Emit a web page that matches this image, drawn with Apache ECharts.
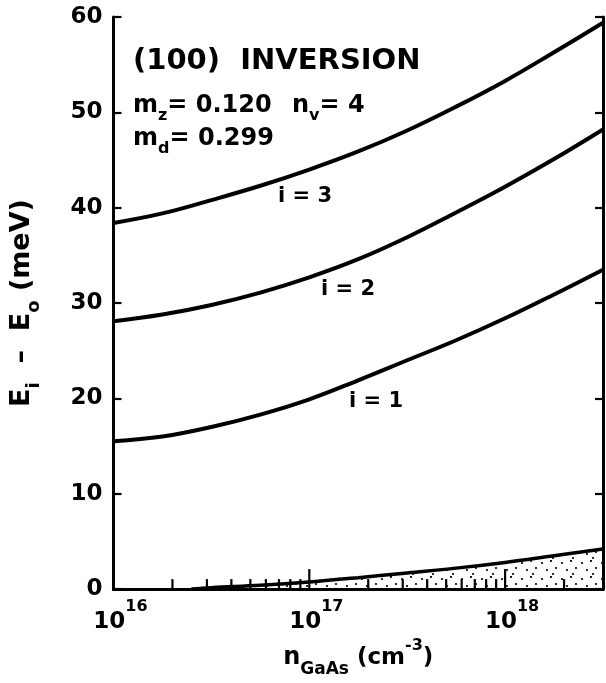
<!DOCTYPE html>
<html>
<head>
<meta charset="utf-8">
<script src="https://cdn.jsdelivr.net/npm/echarts@6/dist/echarts.min.js"></script>
<style>
html,body{margin:0;padding:0;background:#fff;}
#chart{width:606px;height:683px;}
</style>
</head>
<body>
<div id="chart"></div>
<script>
// ---- data ----
const xValues = [1e16, 1.778e16, 3.162e16, 5.623e16, 1e17, 1.778e17, 3.162e17, 5.623e17, 1e18, 1.778e18, 3.162e18];
const level1 = [15.5, 16.0, 17.0, 18.3, 19.9, 21.9, 24.0, 26.1, 28.4, 30.9, 33.5];
const level2 = [28.1, 28.8, 29.8, 31.1, 32.7, 34.6, 36.9, 39.5, 42.2, 45.1, 48.2];
const level3 = [38.4, 39.4, 40.8, 42.3, 44.0, 45.9, 48.1, 50.6, 53.3, 56.3, 59.4];
const shadedX = [2.5e16, 3.162e16, 5.623e16, 1e17, 1.778e17, 3.162e17, 5.623e17, 1e18, 1.778e18, 3.162e18];
const shadedY = [0, 0.15, 0.4, 0.75, 1.2, 1.7, 2.2, 2.8, 3.5, 4.2];
const majorTicks = [1e17, 1e18];
const minorTicks = [2e16, 3e16, 4e16, 5e16, 6e16, 7e16, 8e16, 9e16, 2e17, 3e17, 4e17, 5e17, 6e17, 7e17, 8e17, 9e17, 2e18];
const xMin = 1e16, xMax = 3.162e18;

const FF = 'DejaVu Sans';
const pair = (xs, ys) => xs.map((x, i) => [x, ys[i]]);

// dotted pattern
const pat = document.createElement('canvas');
pat.width = 20; pat.height = 16;
const pc = pat.getContext('2d');
pc.fillStyle = '#000';
[[2,3],[11,1],[7,10],[16,8],[13,14]].forEach(([x,y]) => { pc.beginPath(); pc.arc(x, y, 1.1, 0, Math.PI*2); pc.fill(); });

const chart = echarts.init(document.getElementById('chart'));

function tickSeries(vals, len) {
  return {
    type: 'custom', xAxisIndex: 0, yAxisIndex: 0, z: 10, silent: true,
    data: vals.map(v => [v, 0]),
    renderItem: (params, api) => {
      const p = api.coord([api.value(0), 0]);
      return { type: 'line', shape: {x1: p[0], y1: p[1], x2: p[0], y2: p[1] - len},
               style: {stroke: '#000', lineWidth: 2.2} };
    }
  };
}

const curve = (ys) => ({
  type: 'line', data: pair(xValues, ys), smooth: 0.4, showSymbol: false, symbol: 'none',
  lineStyle: {color: '#000', width: 4}, z: 5
});

const option = {
  backgroundColor: '#fff',
  animation: false,
  grid: {left: 112, right: 2, top: 17, bottom: 93},
  xAxis: [{
    type: 'log', logBase: 10, min: xMin, max: xMax, position: 'bottom',
    axisLine: {lineStyle: {color: '#000', width: 3}},
    axisTick: {show: false}, splitLine: {show: false}, minorTick: {show: false},
    axisLabel: {
      margin: 10, color: '#000',
      formatter: (v) => {
        const e = Math.log10(v);
        if (Math.abs(e - Math.round(e)) > 1e-6) return '';
        return '{p|}{b|10}{s|' + Math.round(e) + '}';
      },
      rich: {
        p: {width: 14},
        b: {fontFamily: FF, fontWeight: 'bold', fontSize: 23, color: '#000', lineHeight: 34, verticalAlign: 'bottom'},
        s: {fontFamily: FF, fontWeight: 'bold', fontSize: 16, color: '#000', lineHeight: 34, verticalAlign: 'top', padding: [0,0,12,0]}
      }
    },
    name: '{n|n}{sub|GaAs}{b| (cm}{sup|-3}{b|)}',
    nameLocation: 'middle', nameGap: 46,
    nameTextStyle: {
      rich: {
        n: {fontFamily: FF, fontWeight: 'bold', fontSize: 24, color: '#000', lineHeight: 40, verticalAlign: 'middle'},
        b: {fontFamily: FF, fontWeight: 'bold', fontSize: 23, color: '#000', lineHeight: 40, verticalAlign: 'middle'},
        sub: {fontFamily: FF, fontWeight: 'bold', fontSize: 17, color: '#000', lineHeight: 17, verticalAlign: 'bottom'},
        sup: {fontFamily: FF, fontWeight: 'bold', fontSize: 16, color: '#000', lineHeight: 16, verticalAlign: 'top'}
      }
    }
  }, {
    type: 'log', logBase: 10, min: xMin, max: xMax, position: 'top',
    axisLine: {lineStyle: {color: '#000', width: 3}},
    axisTick: {show: false}, axisLabel: {show: false}, splitLine: {show: false}
  }],
  yAxis: [{
    type: 'value', min: 0, max: 60, interval: 10, position: 'left',
    axisLine: {show: true, lineStyle: {color: '#000', width: 3}},
    axisTick: {show: true, inside: true, length: 8, lineStyle: {color: '#000', width: 2.2}},
    splitLine: {show: false},
    axisLabel: {margin: 11, color: '#000', fontFamily: FF, fontWeight: 'bold', fontSize: 23},
    name: '{b|E}{s|i}{b|  –  E}{s|o}{b| (meV)}',
    nameLocation: 'middle', nameRotate: 90, nameGap: 70,
    nameTextStyle: {
      rich: {
        b: {fontFamily: FF, fontWeight: 'bold', fontSize: 27, color: '#000', lineHeight: 44, verticalAlign: 'middle'},
        s: {fontFamily: FF, fontWeight: 'bold', fontSize: 18, color: '#000', lineHeight: 18, verticalAlign: 'bottom'}
      }
    }
  }, {
    type: 'value', min: 0, max: 60, interval: 10, position: 'right',
    axisLine: {show: true, lineStyle: {color: '#000', width: 3}},
    axisTick: {show: true, inside: true, length: 8, lineStyle: {color: '#000', width: 2.2}},
    axisLabel: {show: false}, splitLine: {show: false}
  }],
  series: [
    {
      type: 'line', data: pair(shadedX, shadedY), smooth: 0.4, showSymbol: false, symbol: 'none',
      lineStyle: {color: '#000', width: 3.5},
      areaStyle: {color: {image: pat, repeat: 'repeat'}, opacity: 1}, z: 4
    },
    curve(level1), curve(level2), curve(level3),
    tickSeries(majorTicks, 20),
    tickSeries(minorTicks, 10)
  ],
  graphic: [
    {type: 'text', x: 133, y: 61, z: 20, style: {text: '(100)  INVERSION', fontFamily: FF, fontWeight: 'bold', fontSize: 29, fill: '#000', verticalAlign: 'middle'}},
    {type: 'text', x: 133, y: 106, z: 20, style: {
      text: '{b|m}{s|z}{b|= 0.120}', verticalAlign: 'middle', fill: '#000',
      rich: {
        b: {fontFamily: FF, fontWeight: 'bold', fontSize: 24, fill: '#000', lineHeight: 36, verticalAlign: 'middle'},
        s: {fontFamily: FF, fontWeight: 'bold', fontSize: 16, fill: '#000', lineHeight: 16, verticalAlign: 'bottom'}
      }}},
    {type: 'text', x: 292, y: 106, z: 20, style: {
      text: '{b|n}{s|v}{b|= 4}', verticalAlign: 'middle', fill: '#000',
      rich: {
        b: {fontFamily: FF, fontWeight: 'bold', fontSize: 24, fill: '#000', lineHeight: 36, verticalAlign: 'middle'},
        s: {fontFamily: FF, fontWeight: 'bold', fontSize: 16, fill: '#000', lineHeight: 16, verticalAlign: 'bottom'}
      }}},
    {type: 'text', x: 133, y: 139, z: 20, style: {
      text: '{b|m}{s|d}{b|= 0.299}', verticalAlign: 'middle', fill: '#000',
      rich: {
        b: {fontFamily: FF, fontWeight: 'bold', fontSize: 24, fill: '#000', lineHeight: 36, verticalAlign: 'middle'},
        s: {fontFamily: FF, fontWeight: 'bold', fontSize: 16, fill: '#000', lineHeight: 16, verticalAlign: 'bottom'}
      }}},
    {type: 'text', x: 305, y: 197, z: 20, style: {text: 'i = 3', fontFamily: FF, fontWeight: 'bold', fontSize: 21, fill: '#000', align: 'center', verticalAlign: 'middle'}},
    {type: 'text', x: 348, y: 290, z: 20, style: {text: 'i = 2', fontFamily: FF, fontWeight: 'bold', fontSize: 21, fill: '#000', align: 'center', verticalAlign: 'middle'}},
    {type: 'text', x: 376, y: 402, z: 20, style: {text: 'i = 1', fontFamily: FF, fontWeight: 'bold', fontSize: 21, fill: '#000', align: 'center', verticalAlign: 'middle'}}
  ]
};
chart.setOption(option);
</script>
</body>
</html>
